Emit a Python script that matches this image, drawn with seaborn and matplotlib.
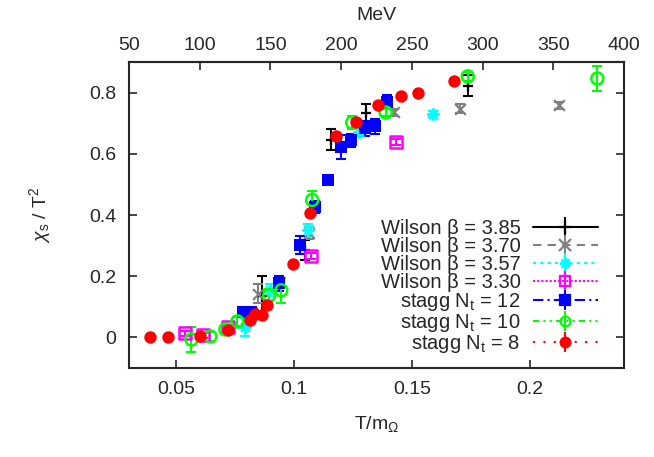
import numpy as np
import pandas as pd
import matplotlib
matplotlib.use("Agg")
import matplotlib.pyplot as plt
import seaborn as sns

# T/m_Omega, chi_s/T^2 and errors
w385_x = [0.0865, 0.1047, 0.1159, 0.1305, 0.1737]
w385_y = [0.135, 0.285, 0.646, 0.734, 0.823]
w385_e = [0.065, 0.033, 0.034, 0.030, 0.035]

w370_x = [0.0849, 0.1063, 0.1423, 0.1703, 0.2124]
w370_y = [0.143, 0.340, 0.736, 0.747, 0.758]
w370_e = [0.030, 0.020, 0.012, 0.015, 0.010]

w357_x = [0.0793, 0.0899, 0.1060, 0.1276, 0.1589]
w357_y = [0.035, 0.154, 0.351, 0.672, 0.731]
w357_e = [0.030, 0.020, 0.020, 0.015, 0.010]

w330_x = [0.0536, 0.0612, 0.0721, 0.1073, 0.1433]
w330_y = [0.013, 0.007, 0.033, 0.266, 0.640]
w330_e = [0.008, 0.008, 0.008, 0.010, 0.010]

st12_x = [0.0785, 0.0820, 0.0936, 0.1027, 0.1087, 0.1143, 0.1200, 0.1242, 0.1300, 0.1345, 0.1395]
st12_y = [0.083, 0.078, 0.177, 0.302, 0.426, 0.514, 0.623, 0.644, 0.683, 0.690, 0.770]
st12_e = [0.015, 0.020, 0.025, 0.030, 0.020, 0.010, 0.040, 0.022, 0.025, 0.025, 0.022]

st10_x = [0.0565, 0.0645, 0.0709, 0.0760, 0.0895, 0.0946, 0.1077, 0.1247, 0.1389, 0.1737, 0.2287]
st10_y = [-0.007, 0.003, 0.026, 0.052, 0.138, 0.154, 0.449, 0.702, 0.735, 0.853, 0.846]
st10_e = [0.040, 0.015, 0.015, 0.015, 0.020, 0.040, 0.030, 0.020, 0.010, 0.015, 0.040]

st8_x = [0.0387, 0.0464, 0.0603, 0.0722, 0.0815, 0.0836, 0.0865, 0.0887, 0.0997, 0.1069,
         0.1179, 0.1263, 0.1356, 0.1453, 0.1525, 0.1678]
st8_y = [0.000, 0.000, 0.005, 0.023, 0.056, 0.075, 0.072, 0.105, 0.239, 0.406,
         0.659, 0.705, 0.758, 0.790, 0.800, 0.839]
st8_e = [0.003] * 16

names = ["Wilson β = 3.85", "Wilson β = 3.70", "Wilson β = 3.57", "Wilson β = 3.30",
         r"stagg N$_\mathregular{t}$ = 12", r"stagg N$_\mathregular{t}$ = 10",
         r"stagg N$_\mathregular{t}$ = 8"]
xs = [w385_x, w370_x, w357_x, w330_x, st12_x, st10_x, st8_x]
ys = [w385_y, w370_y, w357_y, w330_y, st12_y, st10_y, st8_y]
es = [w385_e, w370_e, w357_e, w330_e, st12_e, st10_e, st8_e]

colors = ["#000000", "#808080", "#00ffff", "#ff00ff", "#0000ff", "#00ff00", "#ff0000"]
markers = ["+", "x", (8, 2, 0), "s", "s", "o", "o"]
filled = [True, True, True, False, True, False, True]
thin = [True, True, True, False, False, False, False]
lstyles = ["-", (0, (4, 3)), (0, (1.5, 2)), (0, (1, 1)), (0, (5, 2, 1, 2)),
           (0, (3, 2, 1, 2, 1, 2)), (0, (1, 4))]

M_OMEGA = 1666.67  # MeV, matches 50..400 MeV on the top axis

rows = []
for n, x, y in zip(names, xs, ys):
    for a, b in zip(x, y):
        rows.append((n, a, b))
df = pd.DataFrame(rows, columns=["series", "T", "chi"])

sns.set_theme(style="ticks")
plt.rcParams["font.family"] = ["Liberation Sans", "DejaVu Sans"]
plt.rcParams["mathtext.fontset"] = "custom"
plt.rcParams["mathtext.rm"] = "Liberation Sans"
plt.rcParams["mathtext.it"] = "Liberation Sans:italic"

FS = 14

fig, ax = plt.subplots(figsize=(6.54, 4.57), dpi=100)
fig.subplots_adjust(left=129 / 654, right=624 / 654, top=1 - 62 / 457, bottom=1 - 368 / 457)

# error bars first, markers on top
for i in range(len(names)):
    ax.errorbar(xs[i], ys[i], yerr=es[i], fmt="none", ecolor=colors[i], elinewidth=1.5,
                capsize=3.5, capthick=1.5, zorder=2 + i * 0.1)

for i, n in enumerate(names):
    sub = df[df.series == n]
    if filled[i]:
        sns.scatterplot(data=sub, x="T", y="chi", color=colors[i], marker=markers[i],
                        s=60 if thin[i] else 80, linewidth=1.6 if thin[i] else 0,
                        edgecolor=colors[i], ax=ax, legend=False, zorder=3 + i * 0.1)
    else:
        sns.scatterplot(data=sub, x="T", y="chi", marker=markers[i], s=75,
                        facecolor="none", edgecolor=colors[i], linewidth=1.8,
                        ax=ax, legend=False, zorder=3 + i * 0.1)

# legend handles in gnuplot style
handles = []
for i, n in enumerate(names):
    h = ax.errorbar([np.nan], [np.nan], yerr=[0.01], color=colors[i], ls=lstyles[i], lw=1.5,
                    marker=markers[i], ms=8 if thin[i] else 7,
                    mfc=colors[i] if filled[i] else "none", mec=colors[i], mew=1.6,
                    label=n)
    handles.append(h)
leg = ax.legend(handles=handles, loc="lower right",
                bbox_to_anchor=((598 - 129) / 495, (368 - 355) / 306),
                frameon=False, markerfirst=False, fontsize=14.5, handlelength=3.25,
                labelspacing=-0.05, handletextpad=0.6, borderpad=0.0, borderaxespad=0.0)
for t in leg.get_texts():
    t.set_ha("right")
leg._legend_box.align = "right"

ax.set_xlim(0.02999, 0.24001)
ax.set_ylim(-0.1, 0.9)
ax.set_xticks([0.05, 0.1, 0.15, 0.2])
ax.set_xticklabels(["0.05", "0.1", "0.15", "0.2"])
ax.set_yticks([0, 0.2, 0.4, 0.6, 0.8])
ax.set_yticklabels(["0", "0.2", "0.4", "0.6", "0.8"])
ax.set_xlabel(r"T/m$_\Omega$", fontsize=FS, labelpad=12)
ax.set_ylabel(r"$\chi_\mathregular{s}$ / T$^\mathregular{2}$", fontsize=FS, labelpad=26)
ax.tick_params(direction="in", length=6, width=1.2, labelsize=FS, right=True, pad=9)

top = ax.secondary_xaxis("top", functions=(lambda t: t * M_OMEGA, lambda m: m / M_OMEGA))
top.set_xticks([50, 100, 150, 200, 250, 300, 350, 400])
top.tick_params(direction="in", length=6, width=1.2, labelsize=FS, pad=6)
top.set_xlabel("MeV", fontsize=FS, labelpad=12)

for sp in ax.spines.values():
    sp.set_linewidth(1.5)
    sp.set_visible(True)
top.spines["top"].set_linewidth(1.5)

fig.savefig("out.png", dpi=100)
